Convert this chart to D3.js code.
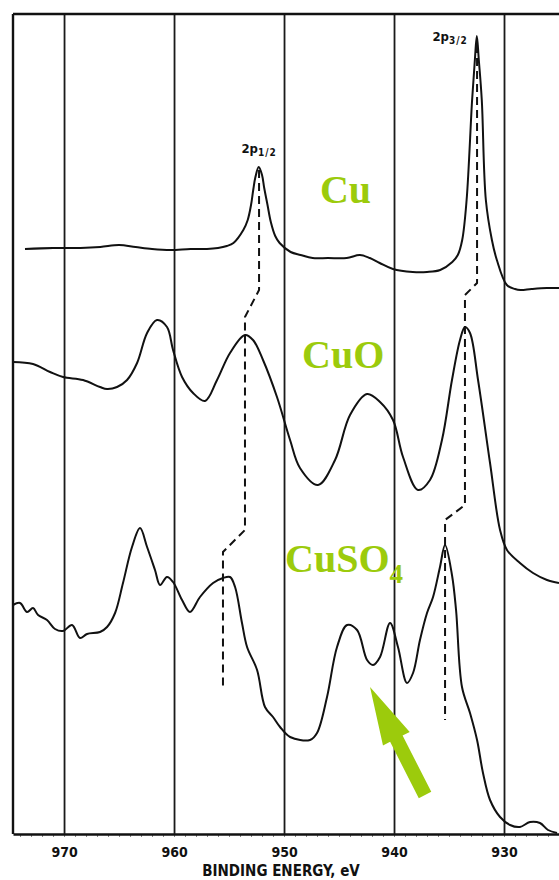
<!DOCTYPE html>
<html>
<head>
<meta charset="utf-8">
<script src="https://cdn.jsdelivr.net/npm/d3@7"></script>
<style>
  body { margin: 0; background: #fff; }
  svg { display: block; }
</style>
</head>
<body>
<svg id="chart" width="559" height="880"></svg>
<script>
// ---- data -----------------------------------------------------------
// Binding-energy window of the recorder trace (eV, high to low)
const energyWindow = [974.64, 925.0];
const tickEnergies = [970, 960, 950, 940, 930];
const tickLabels = ["970", "960", "950", "940", "930"];
const minorTickEnergies = d3.range(974, 925, -1);
const axisTitle = "BINDING ENERGY, eV";

// Cu metal, Cu 2p region (relative intensity, spectra stacked with offsets)
const cuEnergy = [973.55, 971.0, 968.5, 966.7, 965.0, 963.5, 962.0, 960.3, 958.5, 957.0,
  956.0, 955.2, 954.6, 953.7, 953.3, 953.0, 952.8, 952.6, 952.3, 952.0,
  951.8, 951.5, 951.2, 950.8, 950.4, 949.4, 948.5, 947.4, 946.0, 944.3,
  943.1, 942.2, 941.3, 940.1, 938.3, 937.0, 935.8, 934.7, 934.2, 933.8,
  933.4, 932.9, 932.65, 932.47, 932.29, 932.02, 931.65, 931.1, 930.65, 929.74,
  929.0, 928.5, 927.5, 926.1, 925.0];
const cuIntensity = [58.5, 58.6, 58.6, 58.7, 58.9, 58.7, 58.5, 58.4, 58.5, 58.5,
  58.6, 58.8, 59.1, 60.4, 61.4, 62.9, 64.4, 65.7, 66.7, 65.9,
  64.6, 62.9, 61.2, 59.8, 59.1, 58.2, 57.9, 57.6, 57.6, 57.6,
  57.9, 57.6, 57.1, 56.5, 56.2, 56.2, 56.4, 57.2, 57.9, 59.4,
  63.4, 73.4, 77.4, 79.8, 77.4, 73.4, 63.4, 59.4, 57.4, 54.9,
  54.5, 54.4, 54.5, 54.6, 54.6];

// CuO
const cuoEnergy = [974.64, 972.82, 971.27, 970.09, 968.27, 966.73, 966.09, 965.18, 964.27, 963.36,
  962.45, 961.55, 960.64, 960.09, 959.27, 958.27, 957.18, 956.09, 954.91, 953.55,
  952.82, 951.91, 950.64, 949.45, 948.55, 946.91, 945.36, 944.0, 942.45, 941.27,
  940.09, 939.18, 937.82, 936.73, 935.64, 934.73, 934.0, 933.55, 933.09, 932.36,
  931.27, 930.36, 929.73, 928.55, 927.36, 926.09, 925.0];
const cuoIntensity = [47.2, 47.0, 46.2, 45.7, 45.4, 44.7, 44.5, 44.7, 45.4, 47.1,
  50.1, 51.4, 50.7, 48.4, 45.7, 44.1, 43.3, 45.4, 48.1, 49.9,
  49.4, 47.4, 43.7, 39.4, 36.6, 34.9, 37.4, 41.9, 44.0, 43.2,
  41.4, 37.7, 34.4, 35.4, 39.4, 45.4, 49.4, 50.7, 50.1, 45.4,
  37.1, 30.4, 28.4, 27.1, 26.1, 25.4, 25.1];

// CuSO4
const cuso4Energy = [974.64, 974.0, 973.36, 972.82, 972.36, 971.55, 970.82, 970.09, 969.27, 968.55,
  967.91, 966.73, 966.09, 965.36, 964.64, 963.82, 963.09, 962.45, 961.73, 961.27,
  960.64, 960.09, 959.27, 958.55, 957.64, 956.45, 955.55, 954.91, 954.45, 953.82,
  953.36, 952.45, 951.73, 951.0, 950.36, 949.45, 947.64, 947.0, 946.09, 945.18,
  944.27, 943.36, 942.45, 941.91, 941.27, 940.36, 939.64, 938.82, 938.27, 937.64,
  937.0, 936.45, 935.82, 935.36, 934.73, 934.36, 933.82, 933.09, 932.45, 931.91,
  931.27, 930.36, 929.45, 928.55, 927.64, 926.73, 926.0, 925.18];
const cuso4Intensity = [22.9, 23.1, 22.2, 22.6, 21.9, 21.4, 20.5, 20.3, 20.9, 19.6,
  20.0, 20.2, 20.7, 22.1, 25.1, 28.7, 30.6, 28.7, 26.4, 24.9,
  25.7, 25.2, 23.4, 22.2, 23.7, 25.1, 25.6, 25.7, 24.7, 21.1,
  18.7, 16.4, 12.7, 11.7, 10.7, 9.7, 9.4, 10.1, 13.7, 18.7,
  20.9, 20.4, 17.4, 16.9, 17.7, 21.1, 18.7, 15.1, 16.1, 19.4,
  22.1, 23.7, 26.7, 28.9, 25.9, 22.4, 14.7, 12.1, 9.4, 6.1,
  3.4, 1.7, 0.9, 0.7, 1.2, 1.1, 0.4, 0.1];

// Peak-position guides (dashed): energy / intensity vertices
const p12GuideEnergy = [952.27, 952.27, 953.55, 953.55, 955.55, 955.55];
const p12GuideIntensity = [66.4, 54.4, 51.7, 30.4, 28.2, 14.7];
const p32GuideEnergy = [932.45, 932.45, 933.55, 933.55, 935.36, 935.36];
const p32GuideIntensity = [78.9, 55.1, 53.9, 32.9, 31.4, 11.4];

// Sample names and where they sit (energy, intensity)
const sampleNames = ["Cu", "CuO", "CuSO"];
const sampleNameEnergy = [946.73, 948.36, 949.91];
const sampleNameIntensity = [63.1, 46.6, 26.2];

// Arrow pointing at the CuSO4 satellite region: tail -> tip
const arrowEnergy = [937.18, 942.18];
const arrowIntensity = [3.9, 14.7];

// ---- layout ---------------------------------------------------------
const frame = { left: 13, right: 559, top: 14, bottom: 834 };
const green = "#9ccb0c";

const svg = d3.select("#chart");

const x = d3.scaleLinear().domain(energyWindow).range([frame.left, frame.right]);
const y = d3.scaleLinear().domain([0, 82]).range([frame.bottom, frame.top]);

// minor ticks below the baseline
svg.append("g")
  .attr("transform", `translate(0,${frame.bottom})`)
  .call(d3.axisBottom(x).tickValues(minorTickEnergies).tickSize(3).tickFormat(""))
  .call(g => g.select(".domain").remove())
  .call(g => g.selectAll("line").attr("stroke", "#666").attr("stroke-width", 0.8));

// major ticks as full-height vertical rules
const axis = svg.append("g")
  .attr("transform", `translate(0,${frame.bottom})`)
  .call(d3.axisBottom(x)
    .tickValues(tickEnergies)
    .tickFormat((d, i) => tickLabels[i])
    .tickSizeInner(-(frame.bottom - frame.top))
    .tickSizeOuter(0)
    .tickPadding(0));

axis.select(".domain").attr("stroke", "#111").attr("stroke-width", 2.4);
axis.selectAll(".tick line").attr("stroke", "#1a1a1a").attr("stroke-width", 1.8);
axis.selectAll(".tick text")
  .attr("y", 23).attr("dy", 0)
  .attr("fill", "#111")
  .style("font-family", "'Liberation Sans Narrow', 'Arial Narrow', 'DejaVu Sans Condensed', sans-serif")
  .style("font-weight", "bold")
  .style("font-size", "14px");

// frame: left and top rules
svg.append("line")
  .attr("x1", frame.left).attr("x2", frame.left)
  .attr("y1", frame.top).attr("y2", frame.bottom)
  .attr("stroke", "#111").attr("stroke-width", 2.4);
svg.append("line")
  .attr("x1", frame.left).attr("x2", frame.right)
  .attr("y1", frame.top).attr("y2", frame.top)
  .attr("stroke", "#111").attr("stroke-width", 2.4);

// axis title
svg.append("text")
  .attr("x", 281).attr("y", 876)
  .attr("text-anchor", "middle")
  .attr("fill", "#111")
  .style("font-family", "'Liberation Sans Narrow', 'Arial Narrow', 'DejaVu Sans Condensed', sans-serif")
  .style("font-weight", "bold")
  .style("font-size", "15px")
  .text(axisTitle);

// spectra
const line = d3.line()
  .x(d => x(d[0]))
  .y(d => y(d[1]))
  .curve(d3.curveCatmullRom.alpha(0.5));

const spectra = [
  d3.zip(cuEnergy, cuIntensity),
  d3.zip(cuoEnergy, cuoIntensity),
  d3.zip(cuso4Energy, cuso4Intensity)
];

svg.append("g")
  .selectAll("path")
  .data(spectra)
  .join("path")
  .attr("d", line)
  .attr("fill", "none")
  .attr("stroke", "#111")
  .attr("stroke-width", 2)
  .attr("stroke-linejoin", "round");

// dashed peak guides
const guide = d3.line().x(d => x(d[0])).y(d => y(d[1]));
svg.append("g")
  .selectAll("path")
  .data([d3.zip(p12GuideEnergy, p12GuideIntensity), d3.zip(p32GuideEnergy, p32GuideIntensity)])
  .join("path")
  .attr("d", guide)
  .attr("fill", "none")
  .attr("stroke", "#111")
  .attr("stroke-width", 2)
  .attr("stroke-dasharray", "8,5");

// peak labels 2p1/2 and 2p3/2
function peakLabel(px, py, sub, anchor) {
  const t = svg.append("text")
    .attr("x", px).attr("y", py)
    .attr("text-anchor", anchor)
    .attr("fill", "#111")
    .style("font-family", "'Liberation Sans Narrow', 'Arial Narrow', 'DejaVu Sans Condensed', sans-serif")
    .style("font-weight", "bold")
    .style("font-size", "13px");
  t.append("tspan").text("2p");
  t.append("tspan").attr("dy", 3).style("font-size", "10px").style("letter-spacing", "1px").text(sub);
}
peakLabel(x(952.27), 153, "1/2", "middle");
peakLabel(x(933.3), 41, "3/2", "end");

// sample names
const serif = "'Liberation Serif', 'Times New Roman', serif";
sampleNames.forEach((name, i) => {
  const t = svg.append("text")
    .attr("x", x(sampleNameEnergy[i]))
    .attr("y", y(sampleNameIntensity[i]))
    .attr("fill", green)
    .style("font-family", serif)
    .style("font-weight", "bold")
    .style("font-size", "40px")
    .text(name);
  if (name === "CuSO") {
    t.append("tspan").attr("dy", 11).style("font-size", "27px").text("4");
  }
});

// arrow
(function drawArrow() {
  const tail = [x(arrowEnergy[0]), y(arrowIntensity[0])];
  const tip = [x(arrowEnergy[1]), y(arrowIntensity[1])];
  const dx = tip[0] - tail[0], dy = tip[1] - tail[1];
  const len = Math.hypot(dx, dy);
  const ux = dx / len, uy = dy / len;
  const nx = -uy, ny = ux;
  const headLen = 58, headHalf = 15, shaftHalf = 7;
  const bx = tip[0] - ux * headLen, by = tip[1] - uy * headLen;
  const pts = [
    [tail[0] + nx * shaftHalf, tail[1] + ny * shaftHalf],
    [bx + nx * shaftHalf, by + ny * shaftHalf],
    [bx + nx * headHalf, by + ny * headHalf],
    tip,
    [bx - nx * headHalf, by - ny * headHalf],
    [bx - nx * shaftHalf, by - ny * shaftHalf],
    [tail[0] - nx * shaftHalf, tail[1] - ny * shaftHalf]
  ];
  svg.append("path")
    .attr("d", d3.line()(pts) + "Z")
    .attr("fill", green);
})();
</script>
</body>
</html>
